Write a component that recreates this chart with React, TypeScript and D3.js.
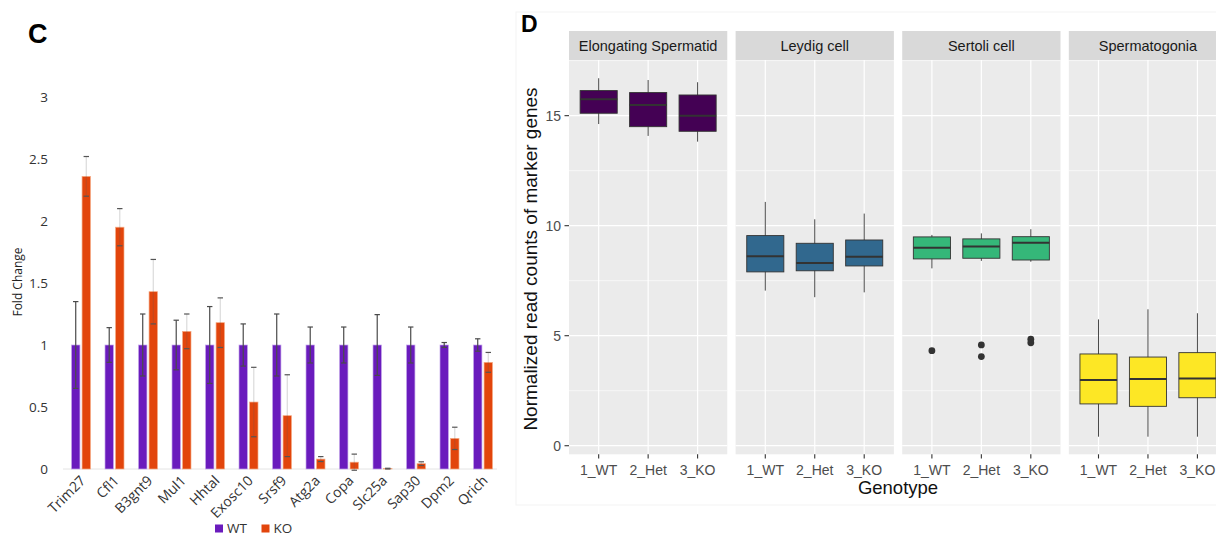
import React, { useEffect, useRef } from 'react'
import { select, scaleLinear, scaleBand, scalePoint } from 'd3'

// panel C - qPCR fold change
const genes = ['Trim27', 'Cfl1', 'B3gnt9', 'Mul1', 'Hhtal', 'Exosc10', 'Srsf9', 'Atg2a', 'Copa', 'Slc25a', 'Sap30', 'Dpm2', 'Qrich']
const wtMean = [1, 1, 1, 1, 1, 1, 1, 1, 1, 1, 1, 1, 1]
const wtErr = [0.35, 0.14, 0.25, 0.2, 0.31, 0.17, 0.25, 0.145, 0.145, 0.245, 0.145, 0.02, 0.05]
const koMean = [2.36, 1.95, 1.43, 1.11, 1.18, 0.54, 0.43, 0.08, 0.055, 0.003, 0.043, 0.247, 0.86]
const koErr = [0.16, 0.15, 0.26, 0.14, 0.2, 0.28, 0.33, 0.02, 0.065, 0.003, 0.015, 0.09, 0.08]
const foldTicks = [0, 0.5, 1, 1.5, 2, 2.5, 3]
const groups = ['WT', 'KO']

// panel D - marker gene read counts, [lower whisker, q1, median, q3, upper whisker]
const cellTypes = ['Elongating Spermatid', 'Leydig cell', 'Sertoli cell', 'Spermatogonia']
const genotypes = ['1_WT', '2_Het', '3_KO']
const spermatidStats = [[14.62, 15.11, 15.75, 16.14, 16.7], [14.08, 14.5, 15.49, 16.05, 16.62], [13.82, 14.29, 15.0, 15.94, 16.52]]
const leydigStats = [[7.05, 7.9, 8.61, 9.55, 11.08], [6.75, 7.95, 8.3, 9.2, 10.29], [6.97, 8.17, 8.59, 9.35, 10.55]]
const sertoliStats = [[8.06, 8.49, 9.0, 9.49, 9.58], [8.4, 8.52, 9.05, 9.4, 9.65], [8.36, 8.44, 9.23, 9.5, 9.84]]
const spermatogoniaStats = [[0.41, 1.9, 2.99, 4.17, 5.74], [0.41, 1.79, 3.03, 4.03, 6.2], [0.41, 2.18, 3.06, 4.23, 6.02]]
const sertoliOutliers = [[4.32], [4.58, 4.05], [4.84, 4.68]]
const countTicks = [0, 5, 10, 15]
const countMinor = [2.5, 7.5, 12.5, 17.5]
const cellColors = ['#440154', '#31688e', '#35b779', '#fde725']

const App = () => {
  const svgRef = useRef(null)

  useEffect(() => {
    const svg = select(svgRef.current)
    svg.selectAll('*').remove()

    // ---------- C ----------
    const fontC = '"Open Sans", sans-serif'
    const y = scaleLinear().domain([0, 3]).range([469, 97])
    const x = scaleBand().domain(genes).range([64.25, 499.75])
    const xs = scaleBand().domain(groups).range([-9.5, 9.5]).paddingInner(0.2)
    const c = svg.append('g')

    c.append('text').attr('x', 28).attr('y', 43).text('C')
      .attr('font-family', 'Arial, "Liberation Sans", sans-serif').attr('font-weight', 'bold').attr('font-size', 27)

    c.selectAll('.ytick').data(foldTicks).join('text')
      .attr('x', 48).attr('y', d => y(d)).attr('dy', '0.35em').attr('text-anchor', 'end')
      .attr('font-family', fontC).attr('font-size', 13.5).attr('fill', '#333')
      .text(d => String(d))

    c.append('line').attr('x1', 63).attr('x2', 497).attr('y1', y(0)).attr('y2', y(0))
      .attr('stroke', '#e4e4e4').attr('stroke-width', 1)

    c.append('text').attr('transform', `translate(22,${282}) rotate(-90)`).attr('text-anchor', 'middle')
      .attr('font-family', fontC).attr('font-size', 12).attr('fill', '#222').text('Fold Change')

    const rows = genes.map((g, i) => ({ g, wt: wtMean[i], wtE: wtErr[i], ko: koMean[i], koE: koErr[i] }))

    // bars
    c.selectAll('.wt').data(rows).join('rect')
      .attr('x', d => x(d.g) + x.bandwidth() / 2 + xs('WT')).attr('width', xs.bandwidth())
      .attr('y', d => y(d.wt)).attr('height', d => y(0) - y(d.wt))
      .attr('fill', '#6a1bbd').attr('stroke', '#c4a6ea').attr('stroke-width', 0.7)
    c.selectAll('.ko').data(rows).join('rect')
      .attr('x', d => x(d.g) + x.bandwidth() / 2 + xs('KO')).attr('width', xs.bandwidth())
      .attr('y', d => y(d.ko)).attr('height', d => y(0) - y(d.ko))
      .attr('fill', '#e2450c').attr('stroke', '#f5ab85').attr('stroke-width', 0.7)

    // error bars
    const errBars = (key, mean, err, lineCol, capCol) => {
      const cx = d => x(d.g) + x.bandwidth() / 2 + xs(key) + xs.bandwidth() / 2
      c.selectAll('.e' + key).data(rows).join('line')
        .attr('x1', cx).attr('x2', cx)
        .attr('y1', d => y(d[mean] - d[err])).attr('y2', d => y(d[mean] + d[err]))
        .attr('stroke', lineCol).attr('stroke-width', 1.2)
      for (const sign of [-1, 1]) {
        c.selectAll('.cap' + key + sign).data(rows).join('line')
          .attr('x1', d => cx(d) - 2.7).attr('x2', d => cx(d) + 2.7)
          .attr('y1', d => y(d[mean] + sign * d[err])).attr('y2', d => y(d[mean] + sign * d[err]))
          .attr('stroke', capCol).attr('stroke-width', 1.2)
      }
    }
    errBars('WT', 'wt', 'wtE', '#4a4a4a', '#4a4a4a')
    errBars('KO', 'ko', 'koE', 'rgba(90,90,90,0.22)', '#555')

    c.selectAll('.xlab').data(genes).join('text')
      .attr('transform', d => `translate(${x(d) + x.bandwidth() / 2 + 2},${478}) rotate(-45)`)
      .attr('text-anchor', 'end').attr('dy', '0.35em')
      .attr('font-family', fontC).attr('font-size', 14).attr('fill', '#333')
      .text(d => d)

    // legend
    const leg = c.append('g')
    groups.forEach((k, i) => {
      const lx = 215 + i * 46.5
      leg.append('rect').attr('x', lx).attr('y', 524.5).attr('width', 8).attr('height', 8)
        .attr('fill', k === 'WT' ? '#6a1bbd' : '#e2450c')
      leg.append('text').attr('x', lx + 12).attr('y', 528.5).attr('dy', '0.35em')
        .attr('font-family', fontC).attr('font-size', 13.5).attr('fill', '#333').text(k)
    })

    // ---------- D ----------
    const fontD = 'Arial, "Liberation Sans", sans-serif'
    const d = svg.append('g')
    d.append('rect').attr('x', 516).attr('y', 12).attr('width', 720).attr('height', 493)
      .attr('fill', 'white').attr('stroke', '#f3f3f3')
    d.append('text').attr('x', 521).attr('y', 32).text('D')
      .attr('font-family', fontD).attr('font-weight', 'bold').attr('font-size', 23)

    const fx = scaleBand().domain(cellTypes).range([569, 1227.1]).paddingInner(0.05)
    const gx = scalePoint().domain(genotypes).range([0, fx.bandwidth()]).padding(0.6)
    const yc = scaleLinear().domain([-0.39, 17.53]).range([454.3, 60])
    const stats = [spermatidStats, leydigStats, sertoliStats, spermatogoniaStats]
    const bw = gx.step() * 0.75

    cellTypes.forEach((ct, i) => {
      const p = d.append('g').attr('transform', `translate(${fx(ct)},0)`)
      const w = fx.bandwidth()
      p.append('rect').attr('x', 0).attr('y', 31).attr('width', w).attr('height', 29).attr('fill', '#d9d9d9')
      p.append('text').attr('x', w / 2).attr('y', 50.5).attr('text-anchor', 'middle')
        .attr('font-family', fontD).attr('font-size', 14.5).attr('fill', '#1a1a1a').text(ct)
      p.append('rect').attr('x', 0).attr('y', 60).attr('width', w).attr('height', 454.3 - 60).attr('fill', '#ebebeb')
      p.selectAll('.minor').data(countMinor).join('line')
        .attr('x1', 0).attr('x2', w).attr('y1', v => yc(v)).attr('y2', v => yc(v))
        .attr('stroke', 'white').attr('stroke-width', 0.6)
      p.selectAll('.major').data(countTicks).join('line')
        .attr('x1', 0).attr('x2', w).attr('y1', v => yc(v)).attr('y2', v => yc(v))
        .attr('stroke', 'white').attr('stroke-width', 1.2)
      p.selectAll('.vgrid').data(genotypes).join('line')
        .attr('x1', g => gx(g)).attr('x2', g => gx(g)).attr('y1', 60).attr('y2', 454.3)
        .attr('stroke', 'white').attr('stroke-width', 1.2)

      const boxes = genotypes.map((g, j) => ({ g, s: stats[i][j] }))
      p.selectAll('.whisk').data(boxes).join('line')
        .attr('x1', b => gx(b.g)).attr('x2', b => gx(b.g))
        .attr('y1', b => yc(b.s[0])).attr('y2', b => yc(b.s[4]))
        .attr('stroke', '#333').attr('stroke-width', 0.9)
      p.selectAll('.box').data(boxes).join('rect')
        .attr('x', b => gx(b.g) - bw / 2).attr('width', bw)
        .attr('y', b => yc(b.s[3])).attr('height', b => yc(b.s[1]) - yc(b.s[3]))
        .attr('fill', cellColors[i]).attr('stroke', '#333').attr('stroke-width', 0.9)
      p.selectAll('.med').data(boxes).join('line')
        .attr('x1', b => gx(b.g) - bw / 2).attr('x2', b => gx(b.g) + bw / 2)
        .attr('y1', b => yc(b.s[2])).attr('y2', b => yc(b.s[2]))
        .attr('stroke', '#333').attr('stroke-width', 2)
      if (ct === 'Sertoli cell') {
        const pts = genotypes.flatMap((g, j) => sertoliOutliers[j].map(v => ({ g, v })))
        p.selectAll('.out').data(pts).join('circle')
          .attr('cx', o => gx(o.g)).attr('cy', o => yc(o.v)).attr('r', 3.4).attr('fill', '#333')
      }

      p.selectAll('.xt').data(genotypes).join('line')
        .attr('x1', g => gx(g)).attr('x2', g => gx(g)).attr('y1', 454.3).attr('y2', 458.5)
        .attr('stroke', '#333').attr('stroke-width', 1.1)
      p.selectAll('.xl').data(genotypes).join('text')
        .attr('x', g => gx(g)).attr('y', 475).attr('text-anchor', 'middle')
        .attr('font-family', fontD).attr('font-size', 14).attr('fill', '#4d4d4d').text(g => g)
    })

    d.selectAll('.yt').data(countTicks).join('line')
      .attr('x1', 564.5).attr('x2', 569).attr('y1', v => yc(v)).attr('y2', v => yc(v))
      .attr('stroke', '#333').attr('stroke-width', 1.1)
    d.selectAll('.yl').data(countTicks).join('text')
      .attr('x', 561).attr('y', v => yc(v)).attr('dy', '0.35em').attr('text-anchor', 'end')
      .attr('font-family', fontD).attr('font-size', 14).attr('fill', '#4d4d4d').text(v => String(v))

    d.append('text').attr('transform', `translate(537,259) rotate(-90)`).attr('text-anchor', 'middle')
      .attr('font-family', fontD).attr('font-size', 19).attr('fill', '#111')
      .text('Normalized read counts of marker genes')
    d.append('text').attr('x', 898).attr('y', 494).attr('text-anchor', 'middle')
      .attr('font-family', fontD).attr('font-size', 18.5).attr('fill', '#111').text('Genotype')
  }, [])

  return (
    <svg ref={svgRef} width={1216} height={537}
      style={{ position: 'absolute', left: 0, top: 0, background: 'white' }} />
  )
}

export default App
